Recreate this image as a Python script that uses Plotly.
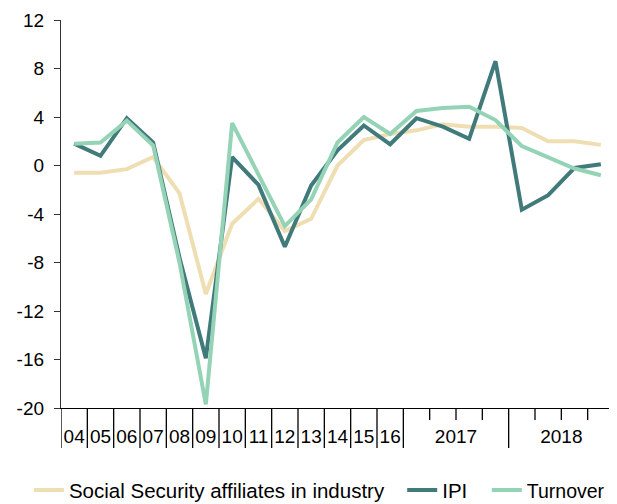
import plotly.graph_objects as go

categories = ['04', '05', '06', '07', '08', '09', '10', '11', '12', '13', '14', '15', '16',
              '2017 Q1', '2017 Q2', '2017 Q3', '2017 Q4',
              '2018 Q1', '2018 Q2', '2018 Q3', '2018 Q4']
annual_labels = ['04', '05', '06', '07', '08', '09', '10', '11', '12', '13', '14', '15', '16']
year_labels = ['2017', '2018']
y_ticks = [-20, -16, -12, -8, -4, 0, 4, 8, 12]
y_ticktext = ['-20', '-16', '-12', '-8', '-4', '0', '4', '8', '12']

social_security = [-0.6, -0.6, -0.3, 0.7, -2.3, -10.6, -4.8, -2.75, -5.4, -4.4, 0.0, 2.1,
                   2.6, 2.9, 3.4, 3.2, 3.2, 3.1, 2.0, 2.0, 1.7]
ipi = [1.8, 0.8, 3.9, 1.9, -7.6, -15.9, 0.7, -1.6, -6.7, -1.65, 1.25, 3.3,
       1.75, 3.9, 3.2, 2.2, 8.6, -3.65, -2.45, -0.2, 0.1]
turnover = [1.8, 1.9, 3.7, 1.65, -8.0, -19.7, 3.5, -0.7, -5.0, -2.8, 1.9, 4.0,
            2.6, 4.5, 4.75, 4.85, 3.75, 1.6, 0.7, -0.25, -0.8]

colors = {'ss': '#F0DEB3', 'ipi': '#407A7B', 'turn': '#94D3B6'}

x = list(range(len(categories)))

fig = go.Figure()
fig.add_trace(go.Scatter(x=x, y=social_security, mode='lines',
                         name='Social Security affiliates in industry', legend='legend',
                         line=dict(color=colors['ss'], width=4)))
fig.add_trace(go.Scatter(x=x, y=ipi, mode='lines', name='IPI', legend='legend2',
                         line=dict(color=colors['ipi'], width=4)))
fig.add_trace(go.Scatter(x=x, y=turnover, mode='lines', name='Turnover', legend='legend3',
                         line=dict(color=colors['turn'], width=4)))

# tick labels: one per year up to 16, then one per year over its quarters
n_annual = len(annual_labels)
tickvals = list(range(n_annual)) + [n_annual + 1.5 + 4 * k for k in range(len(year_labels))]
ticktext = annual_labels + year_labels

# separators below the axis: long between years, short between quarters
shapes = []
for b in range(len(categories) + 1):
    pos = b - 0.5
    q = b - n_annual
    long_tick = q <= 0 or q % 4 == 0
    shapes.append(dict(type='line', xref='x', yref='paper', x0=pos, x1=pos,
                       y0=0, y1=-0.103 if long_tick else -0.031,
                       line=dict(color='black', width=1.3)))

leg = dict(orientation='h', xanchor='left', y=-0.212, yanchor='middle',
           font=dict(size=20.5), bgcolor='rgba(0,0,0,0)')

# page body adds an 8px offset, so the figure is sized to the remaining window
fig.update_layout(
    width=609, height=496,
    margin=dict(l=53, r=3, t=12, b=96, autoexpand=False),
    paper_bgcolor='white', plot_bgcolor='white',
    font=dict(family='Liberation Sans, Arial, sans-serif', size=19, color='black'),
    showlegend=True,
    legend=dict(leg, x=-0.058),
    legend2=dict(leg, x=0.617),
    legend3=dict(leg, x=0.770, font=dict(size=19.5)),
    shapes=shapes,
)
fig.update_xaxes(range=[-0.5, len(categories) - 0.5], tickvals=tickvals, ticktext=ticktext,
                 ticks='', showgrid=False, zeroline=False, showline=True, automargin=False,
                 linecolor='black', linewidth=1.3, ticklabelstandoff=11)
fig.update_yaxes(range=[-20, 12], tickvals=y_ticks, ticktext=y_ticktext, ticks='outside',
                 ticklen=6, tickcolor='#333333', tickwidth=1.3, showgrid=False,
                 zeroline=False, showline=True, linecolor='#333333', linewidth=1.3,
                 ticklabelstandoff=6, automargin=False)

fig.write_html("out.html")
